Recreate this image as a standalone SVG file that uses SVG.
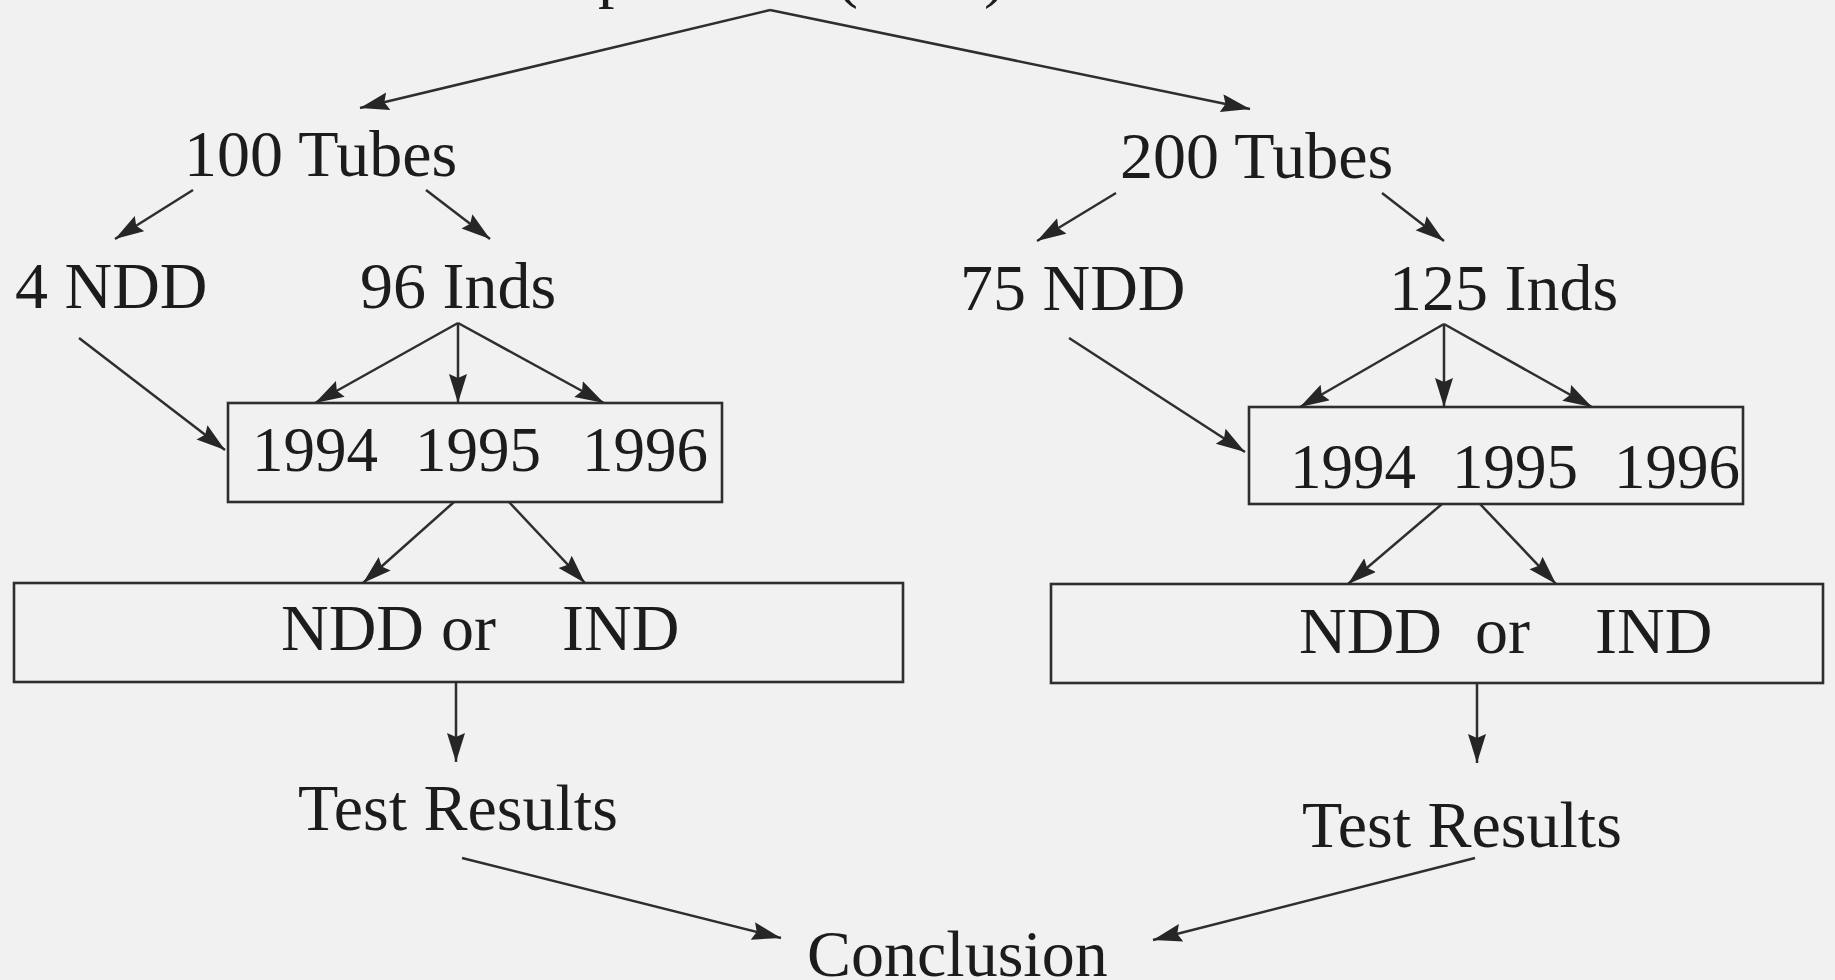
<svg xmlns="http://www.w3.org/2000/svg" width="1835" height="980" viewBox="0 0 1835 980">
<style>
.t{font-family:"Liberation Serif","Times New Roman",serif;font-size:66px;fill:#1c1c1c}
.y{font-family:"Liberation Serif","Times New Roman",serif;font-size:63px;fill:#1c1c1c}
.b{fill:none;stroke:#2e2e2e;stroke-width:2.6}
.c line{stroke:#2e2e2e;stroke-width:2.5;marker-end:url(#ah)}
</style>
<defs>
<marker id="ah" markerUnits="userSpaceOnUse" markerWidth="32" markerHeight="20" refX="29" refY="9" orient="auto">
<path d="M0,0 L29,9 L0,18 L4,9 z" fill="#262626"/>
</marker>
</defs>
<rect width="1835" height="980" fill="#f1f1f1"/>
<g id="top"><text class="t" x="598" y="-5">p</text><text class="t" x="836" y="-5">(</text><text class="t" x="984" y="-5">)</text></g>
<g id="n100"><text class="t" x="184" y="176">100 Tubes</text></g>
<g id="n200"><text class="t" x="1120" y="178">200 Tubes</text></g>
<g id="n4ndd"><text class="t" x="15" y="308">4 NDD</text></g>
<g id="n96"><text class="t" x="360" y="308">96 Inds</text></g>
<g id="n75ndd"><text class="t" x="960" y="310">75 NDD</text></g>
<g id="n125"><text class="t" x="1389" y="310">125 Inds</text></g>
<g id="yearsL"><rect class="b" x="228" y="403" width="494" height="99"/><text class="y" y="471"><tspan x="252">1994</tspan><tspan x="415">1995</tspan><tspan x="582">1996</tspan></text></g>
<g id="yearsR"><rect class="b" x="1249" y="407" width="494" height="97"/><text class="y" y="488"><tspan x="1290">1994</tspan><tspan x="1452">1995</tspan><tspan x="1614">1996</tspan></text></g>
<g id="ndL"><rect class="b" x="14" y="583" width="889" height="99"/><text class="t" y="650"><tspan x="281">NDD</tspan><tspan x="441">or</tspan><tspan x="562">IND</tspan></text></g>
<g id="ndR"><rect class="b" x="1051" y="584" width="772" height="99"/><text class="t" y="653"><tspan x="1299">NDD</tspan><tspan x="1475">or</tspan><tspan x="1595">IND</tspan></text></g>
<g id="trL"><text class="t" x="298" y="830">Test Results</text></g>
<g id="trR"><text class="t" x="1302" y="847">Test Results</text></g>
<g id="concl"><text class="t" x="807" y="976">Conclusion</text></g>
<g id="connectors" class="c">
<line x1="770" y1="10" x2="360" y2="108"/>
<line x1="770" y1="10" x2="1250" y2="109"/>
<line x1="193" y1="190" x2="115" y2="239"/>
<line x1="426" y1="190" x2="490" y2="239"/>
<line x1="1116" y1="193" x2="1037" y2="241"/>
<line x1="1382" y1="193" x2="1444" y2="241"/>
<line x1="458" y1="323" x2="315" y2="403"/>
<line x1="458" y1="323" x2="458" y2="403"/>
<line x1="458" y1="323" x2="604" y2="403"/>
<line x1="1444" y1="324" x2="1300" y2="407"/>
<line x1="1444" y1="324" x2="1444" y2="407"/>
<line x1="1444" y1="324" x2="1592" y2="407"/>
<line x1="79" y1="338" x2="225" y2="450"/>
<line x1="1069" y1="338" x2="1245" y2="452"/>
<line x1="454" y1="502" x2="363" y2="583"/>
<line x1="509" y1="502" x2="585" y2="583"/>
<line x1="1442" y1="504" x2="1348" y2="584"/>
<line x1="1480" y1="504" x2="1556" y2="584"/>
<line x1="456" y1="682" x2="456" y2="762"/>
<line x1="1477" y1="683" x2="1477" y2="763"/>
<line x1="462" y1="858" x2="781" y2="938"/>
<line x1="1475" y1="858" x2="1153" y2="940"/>
</g>
</svg>
